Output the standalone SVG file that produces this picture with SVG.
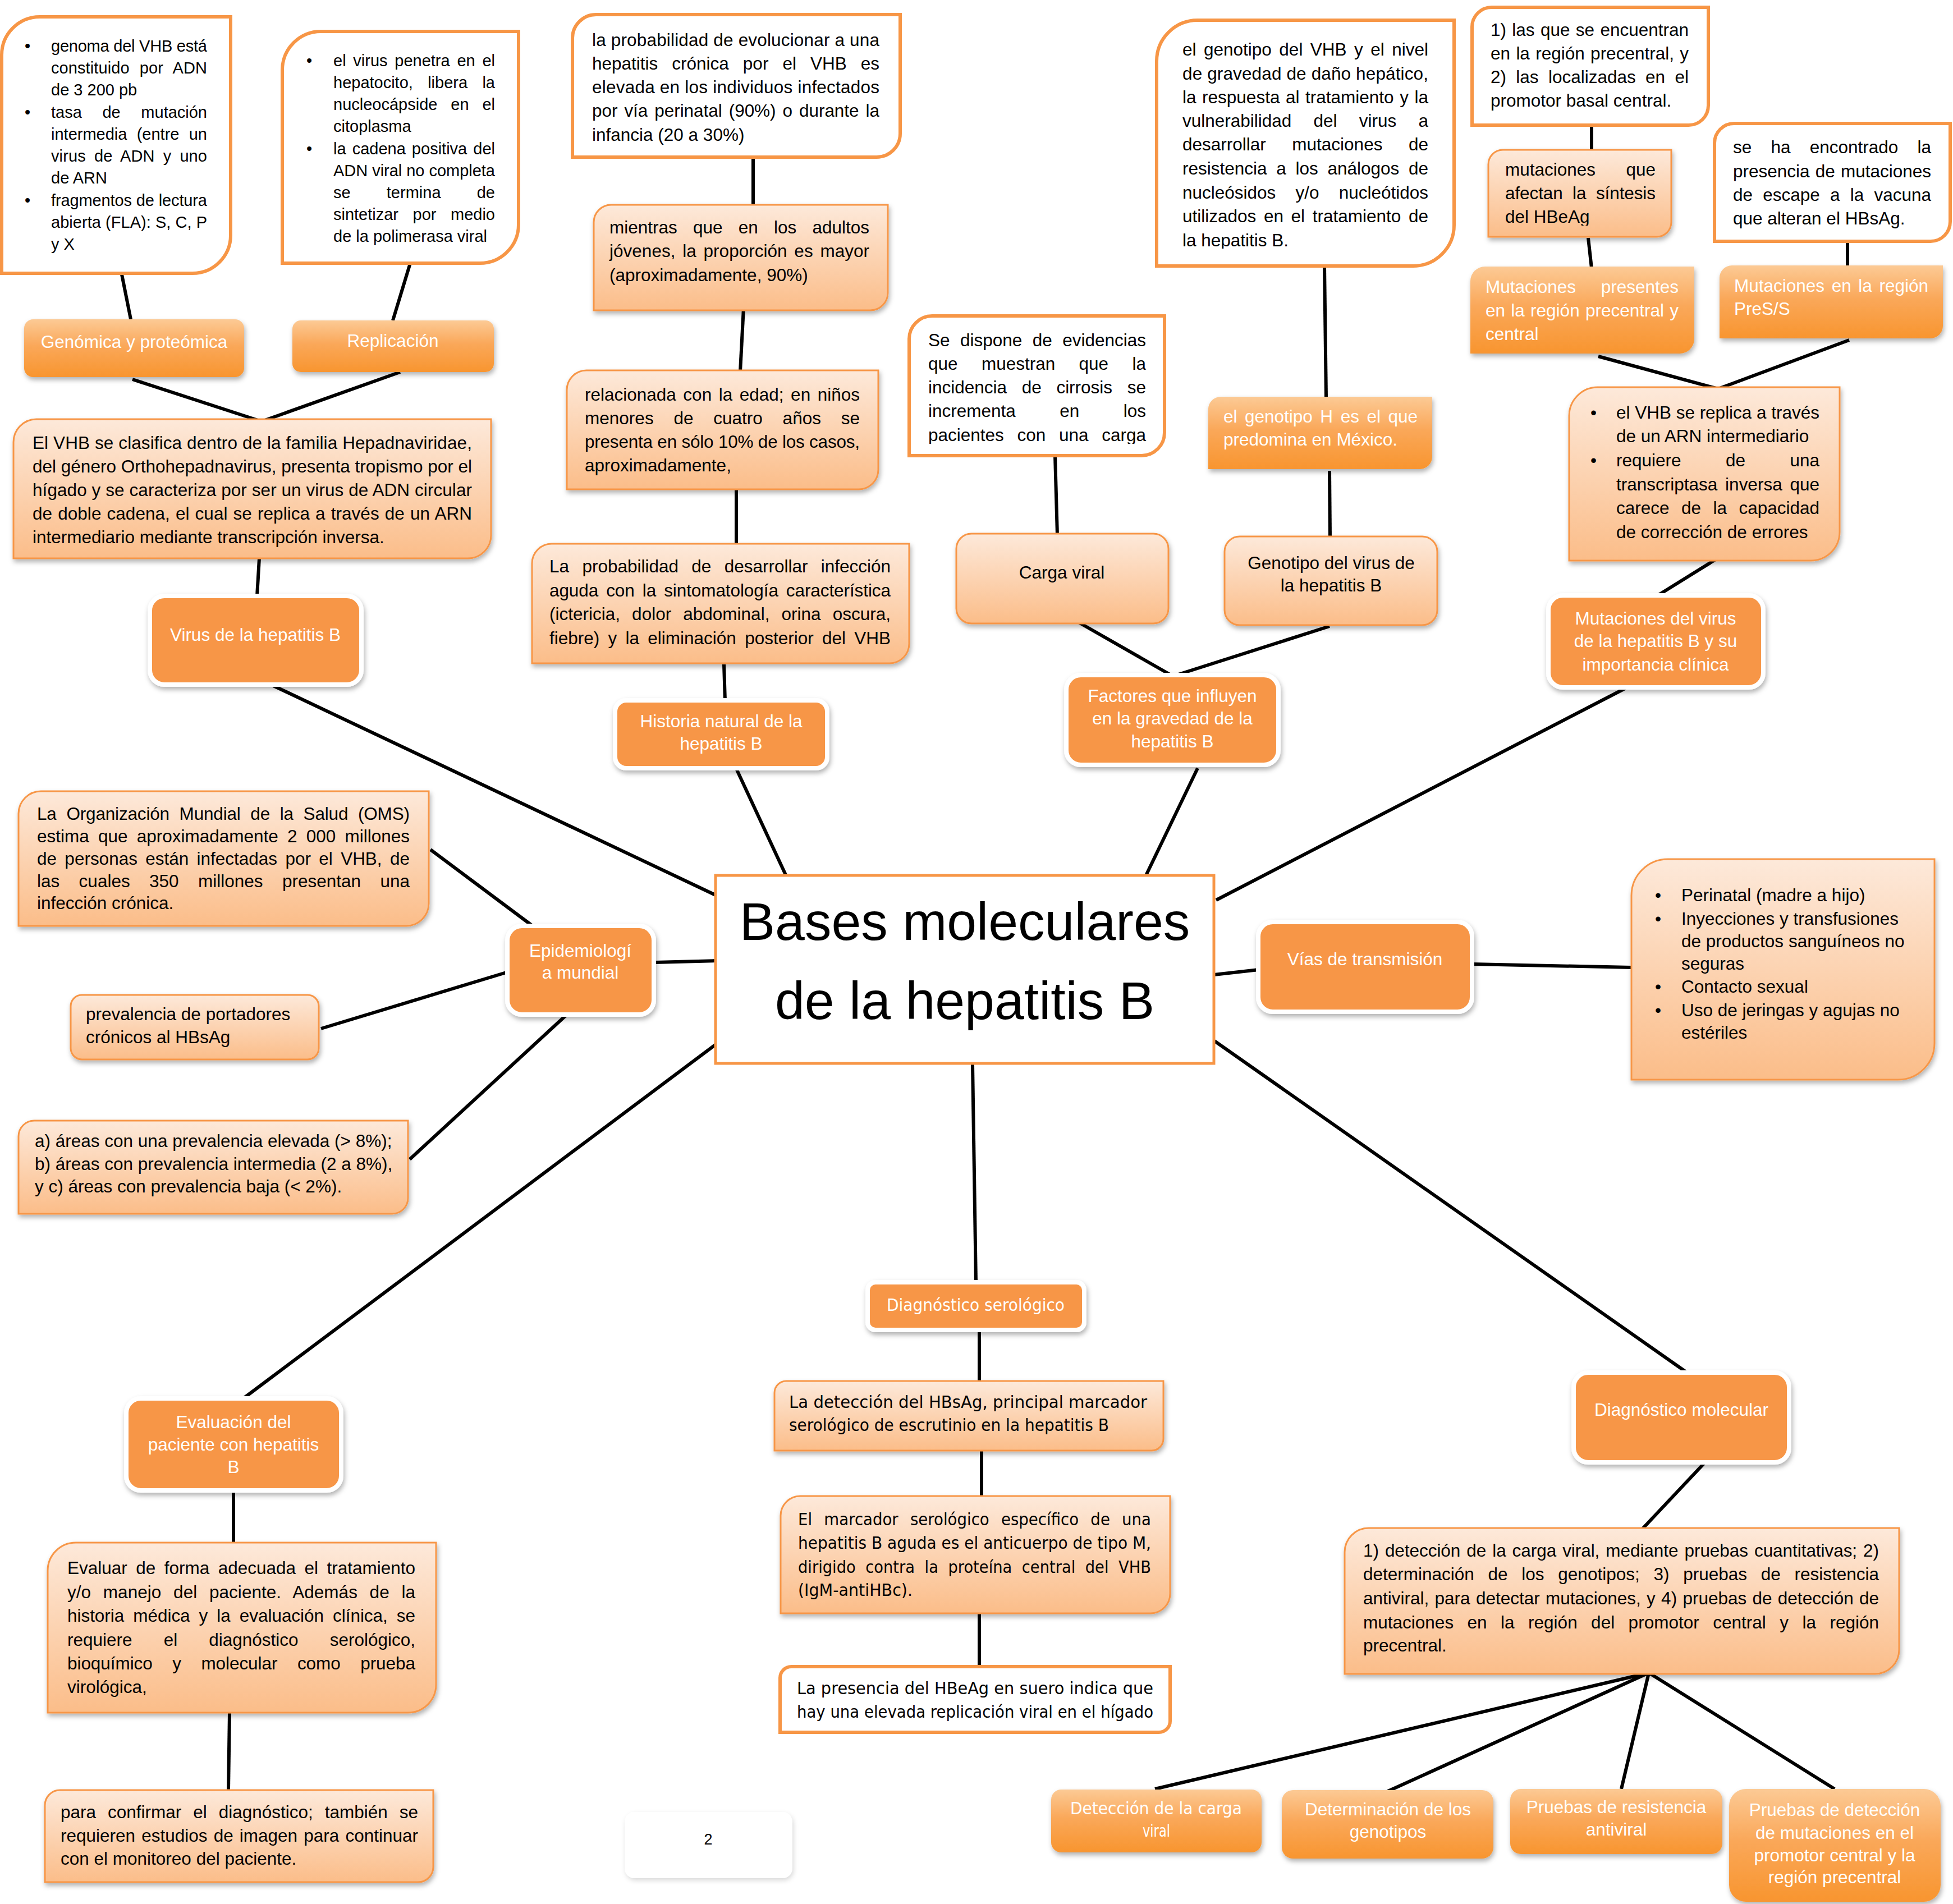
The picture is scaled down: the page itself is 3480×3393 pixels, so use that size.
<svg xmlns="http://www.w3.org/2000/svg" width="3480" height="3393" viewBox="0 0 3480 3393">
<defs>
<linearGradient id="peach" x1="0" y1="0" x2="0" y2="1"><stop offset="0" stop-color="#FDE9DA"/><stop offset="1" stop-color="#FBBD89"/></linearGradient>
<linearGradient id="orng" x1="0" y1="0" x2="0" y2="1"><stop offset="0" stop-color="#FCCA95"/><stop offset="0.45" stop-color="#FAA85A"/><stop offset="1" stop-color="#F8952F"/></linearGradient>
<filter id="sh" x="-10%" y="-10%" width="125%" height="135%"><feDropShadow dx="2" dy="5" stdDeviation="4" flood-color="#000" flood-opacity="0.3"/></filter>
<filter id="shl" x="-10%" y="-10%" width="125%" height="135%"><feDropShadow dx="2" dy="4" stdDeviation="4" flood-color="#000" flood-opacity="0.15"/></filter>
<clipPath id="clipM"><rect x="1620" y="563" width="455" height="228"/></clipPath>
<clipPath id="clipQ"><rect x="2061" y="36" width="530" height="407"/></clipPath>
<clipPath id="clipT"><rect x="2652" y="267" width="326" height="135"/></clipPath>
</defs>
<style>
.cw{fill:#fff;stroke:#F79646;stroke-width:6}
.pk{fill:url(#peach);stroke:#F79646;stroke-width:3;filter:url(#sh)}
.so{fill:#F79646;stroke:#fff;stroke-width:8;filter:url(#sh)}
.og{fill:url(#orng);filter:url(#sh)}
.ti{fill:#fff;stroke:#F79646;stroke-width:5}
.pg{fill:#fff;filter:url(#shl)}
.ln{stroke:#000;stroke-width:6;fill:none}
.t{font-family:"Liberation Sans",Arial,sans-serif;font-size:31.5px;fill:#000}
.s29{font-size:29px}
.wh{fill:#fff}
.m{text-anchor:middle}
.g{font-family:"DejaVu Sans",Verdana,sans-serif;font-size:31px}
</style>
<rect width="3480" height="3393" fill="#fff"/>
<g id="connectors">
<line class="ln" x1="217" y1="489" x2="233" y2="569"/>
<line class="ln" x1="731" y1="469" x2="700" y2="571"/>
<line class="ln" x1="236" y1="676" x2="466" y2="751"/>
<line class="ln" x1="713" y1="663" x2="466" y2="751"/>
<line class="ln" x1="462" y1="995" x2="458" y2="1062"/>
<line class="ln" x1="487" y1="1222" x2="1275" y2="1595"/>
<line class="ln" x1="1342" y1="280" x2="1342" y2="367"/>
<line class="ln" x1="1325" y1="548" x2="1319" y2="662"/>
<line class="ln" x1="1312" y1="872" x2="1312" y2="971"/>
<line class="ln" x1="1290" y1="1184" x2="1292" y2="1250"/>
<line class="ln" x1="1313" y1="1372" x2="1400" y2="1559"/>
<line class="ln" x1="1880" y1="812" x2="1884" y2="954"/>
<line class="ln" x1="2360" y1="474" x2="2363" y2="708"/>
<line class="ln" x1="2369" y1="839" x2="2370" y2="957"/>
<line class="ln" x1="1922" y1="1109" x2="2090" y2="1205"/>
<line class="ln" x1="2369" y1="1116" x2="2090" y2="1205"/>
<line class="ln" x1="2134" y1="1369" x2="2042" y2="1560"/>
<line class="ln" x1="2836" y1="226" x2="2836" y2="268"/>
<line class="ln" x1="2830" y1="424" x2="2836" y2="478"/>
<line class="ln" x1="3292" y1="430" x2="3292" y2="475"/>
<line class="ln" x1="2848" y1="635" x2="3058" y2="692"/>
<line class="ln" x1="3295" y1="606" x2="3064" y2="692"/>
<line class="ln" x1="3057" y1="997" x2="2954" y2="1061"/>
<line class="ln" x1="2903" y1="1223" x2="2167" y2="1604"/>
<line class="ln" x1="2163" y1="1737" x2="2243" y2="1728"/>
<line class="ln" x1="2623" y1="1718" x2="2907" y2="1724"/>
<line class="ln" x1="767" y1="1514" x2="949" y2="1650"/>
<line class="ln" x1="1167" y1="1715" x2="1277" y2="1712"/>
<line class="ln" x1="572" y1="1833" x2="902" y2="1733"/>
<line class="ln" x1="1010" y1="1808" x2="730" y2="2066"/>
<line class="ln" x1="1277" y1="1860" x2="431" y2="2494"/>
<line class="ln" x1="416" y1="2655" x2="416" y2="2752"/>
<line class="ln" x1="409" y1="3052" x2="407" y2="3190"/>
<line class="ln" x1="1733" y1="1897" x2="1739" y2="2286"/>
<line class="ln" x1="1745" y1="2370" x2="1745" y2="2461"/>
<line class="ln" x1="1749" y1="2585" x2="1749" y2="2667"/>
<line class="ln" x1="1745" y1="2875" x2="1745" y2="2972"/>
<line class="ln" x1="2164" y1="1855" x2="3006" y2="2446"/>
<line class="ln" x1="3040" y1="2604" x2="2927" y2="2724"/>
<line class="ln" x1="2938" y1="2981" x2="2058" y2="3188"/>
<line class="ln" x1="2938" y1="2981" x2="2473" y2="3192"/>
<line class="ln" x1="2938" y1="2981" x2="2889" y2="3188"/>
<line class="ln" x1="2938" y1="2981" x2="3269" y2="3188"/>
</g>

<g id="n-genoma">
<path class="cw" d="M3,98 A68,68 0 0 1 71,30 H411 V419 A68,68 0 0 1 343,487 H3 Z"/>
<g class="t s29">
<text x="44" y="92">•</text><text x="44" y="210">•</text><text x="44" y="367">•</text>
<text x="91" y="92" textLength="278" lengthAdjust="spacing">genoma del VHB está</text>
<text x="91" y="131" word-spacing="10" textLength="278" lengthAdjust="spacing">constituido por ADN</text>
<text x="91" y="170">de 3 200 pb</text>
<text x="91" y="210" word-spacing="28.6" textLength="278" lengthAdjust="spacing">tasa de mutación</text>
<text x="91" y="249" word-spacing="9.2" textLength="278" lengthAdjust="spacing">intermedia (entre un</text>
<text x="91" y="288" word-spacing="7" textLength="278" lengthAdjust="spacing">virus de ADN y uno</text>
<text x="91" y="327">de ARN</text>
<text x="91" y="367" textLength="278" lengthAdjust="spacing">fragmentos de lectura</text>
<text x="91" y="406" textLength="278" lengthAdjust="spacing">abierta (FLA): S, C, P</text>
<text x="91" y="445">y X</text>
</g>
</g>

<g id="n-replicacion-texto">
<path class="cw" d="M503,125 A69,69 0 0 1 572,56 H924 V400 A69,69 0 0 1 855,469 H503 Z"/>
<g class="t s29">
<text x="546" y="118">•</text><text x="546" y="275">•</text>
<text x="594" y="118" word-spacing="4.7" textLength="288" lengthAdjust="spacing">el virus penetra en el</text>
<text x="594" y="157" word-spacing="18.3" textLength="288" lengthAdjust="spacing">hepatocito, libera la</text>
<text x="594" y="196" word-spacing="15.8" textLength="288" lengthAdjust="spacing">nucleocápside en el</text>
<text x="594" y="235">citoplasma</text>
<text x="594" y="275" word-spacing="3" textLength="288" lengthAdjust="spacing">la cadena positiva del</text>
<text x="594" y="314" textLength="288" lengthAdjust="spacing">ADN viral no completa</text>
<text x="594" y="353" word-spacing="56" textLength="288" lengthAdjust="spacing">se termina de</text>
<text x="594" y="392" word-spacing="17.5" textLength="288" lengthAdjust="spacing">sintetizar por medio</text>
<text x="594" y="431">de la polimerasa viral</text>
</g>
</g>

<g id="n-genomica">
<rect class="og" x="43" y="569" width="392" height="103" rx="16"/>
<text class="t wh m" x="239" y="620">Genómica y proteómica</text>
</g>
<g id="n-replicacion">
<rect class="og" x="521" y="571" width="359" height="92" rx="15"/>
<text class="t wh m" x="700" y="618">Replicación</text>
</g>

<g id="n-vhb-clasifica">
<path class="pk" d="M24,788 A41,41 0 0 1 65,747 H875 V954 A41,41 0 0 1 834,995 H24 Z"/>
<g class="t">
<text x="58" y="800" textLength="783" lengthAdjust="spacing">El VHB se clasifica dentro de la familia Hepadnaviridae,</text>
<text x="58" y="842" textLength="783" lengthAdjust="spacing">del género Orthohepadnavirus, presenta tropismo por el</text>
<text x="58" y="884" textLength="783" lengthAdjust="spacing">hígado y se caracteriza por ser un virus de ADN circular</text>
<text x="58" y="926" word-spacing="1.3" textLength="783" lengthAdjust="spacing">de doble cadena, el cual se replica a través de un ARN</text>
<text x="58" y="968">intermediario mediante transcripción inversa.</text>
</g>
</g>

<g id="n-virus">
<rect class="so" x="267" y="1062" width="377" height="158" rx="26"/>
<text class="t wh m" x="455" y="1142">Virus de la hepatitis B</text>
</g>

<g id="n-prob-cronica">
<path class="cw" d="M1020,68 A42,42 0 0 1 1062,26 H1604 V238 A42,42 0 0 1 1562,280 H1020 Z"/>
<g class="t">
<text x="1055" y="82" textLength="512" lengthAdjust="spacing">la probabilidad de evolucionar a una</text>
<text x="1055" y="124" word-spacing="16.3" textLength="512" lengthAdjust="spacing">hepatitis crónica por el VHB es</text>
<text x="1055" y="166" textLength="512" lengthAdjust="spacing">elevada en los individuos infectados</text>
<text x="1055" y="208" word-spacing="3.3" textLength="512" lengthAdjust="spacing">por vía perinatal (90%) o durante la</text>
<text x="1055" y="251">infancia (20 a 30%)</text>
</g>
</g>

<g id="n-adultos">
<path class="pk" d="M1058,396 A31,31 0 0 1 1089,365 H1582 V522 A31,31 0 0 1 1551,553 H1058 Z"/>
<g class="t">
<text x="1086" y="416" word-spacing="19.5" textLength="463" lengthAdjust="spacing">mientras que en los adultos</text>
<text x="1086" y="458" word-spacing="4" textLength="463" lengthAdjust="spacing">jóvenes, la proporción es mayor</text>
<text x="1086" y="501">(aproximadamente, 90%)</text>
</g>
</g>

<g id="n-edad">
<path class="pk" d="M1010,695 A35,35 0 0 1 1045,660 H1565 V837 A35,35 0 0 1 1530,872 H1010 Z"/>
<g class="t">
<text x="1042" y="714" word-spacing="3.8" textLength="490" lengthAdjust="spacing">relacionada con la edad; en niños</text>
<text x="1042" y="756" word-spacing="27" textLength="490" lengthAdjust="spacing">menores de cuatro años se</text>
<text x="1042" y="798" textLength="490" lengthAdjust="spacing">presenta en sólo 10% de los casos,</text>
<text x="1042" y="840">aproximadamente,</text>
</g>
</g>

<g id="n-aguda">
<path class="pk" d="M948,1004 A35,35 0 0 1 983,969 H1620 V1147 A35,35 0 0 1 1585,1182 H948 Z"/>
<g class="t">
<text x="979" y="1020" word-spacing="14.6" textLength="608" lengthAdjust="spacing">La probabilidad de desarrollar infección</text>
<text x="979" y="1063" word-spacing="5.4" textLength="608" lengthAdjust="spacing">aguda con la sintomatología característica</text>
<text x="979" y="1105" word-spacing="12.4" textLength="608" lengthAdjust="spacing">(ictericia, dolor abdominal, orina oscura,</text>
<text x="979" y="1148" word-spacing="6.5" textLength="608" lengthAdjust="spacing">fiebre) y la eliminación posterior del VHB</text>
</g>
</g>

<g id="n-historia">
<rect class="so" x="1096" y="1248" width="378" height="121" rx="20"/>
<text class="t wh m" x="1285" y="1296">Historia natural de la</text>
<text class="t wh m" x="1285" y="1336">hepatitis B</text>
</g>

<g id="n-cirrosis">
<path class="cw" d="M1620,604 A41,41 0 0 1 1661,563 H2075 V771 A41,41 0 0 1 2034,812 H1620 Z"/>
<g class="t" clip-path="url(#clipM)">
<text x="1654" y="617" word-spacing="9.7" textLength="388" lengthAdjust="spacing">Se dispone de evidencias</text>
<text x="1654" y="659" word-spacing="33.6" textLength="388" lengthAdjust="spacing">que muestran que la</text>
<text x="1654" y="701" word-spacing="18" textLength="388" lengthAdjust="spacing">incidencia de cirrosis se</text>
<text x="1654" y="743" word-spacing="69.7" textLength="388" lengthAdjust="spacing">incrementa en los</text>
<text x="1654" y="786" word-spacing="15" textLength="388" lengthAdjust="spacing">pacientes con una carga</text>
</g>
</g>

<g id="n-carga">
<rect class="pk" x="1704" y="951" width="378" height="160" rx="27"/>
<text class="t m" x="1892" y="1031">Carga viral</text>
</g>

<g id="n-genotipo-texto">
<path class="cw" d="M2061,109 A73,73 0 0 1 2134,36 H2591 V401 A73,73 0 0 1 2518,474 H2061 Z"/>
<g class="t" clip-path="url(#clipQ)">
<text x="2107" y="99" word-spacing="4.7" textLength="438" lengthAdjust="spacing">el genotipo del VHB y el nivel</text>
<text x="2107" y="142" textLength="438" lengthAdjust="spacing">de gravedad de daño hepático,</text>
<text x="2107" y="184" word-spacing="1.8" textLength="438" lengthAdjust="spacing">la respuesta al tratamiento y la</text>
<text x="2107" y="226" word-spacing="30.5" textLength="438" lengthAdjust="spacing">vulnerabilidad del virus a</text>
<text x="2107" y="268" word-spacing="37.8" textLength="438" lengthAdjust="spacing">desarrollar mutaciones de</text>
<text x="2107" y="311" word-spacing="8" textLength="438" lengthAdjust="spacing">resistencia a los análogos de</text>
<text x="2107" y="354" word-spacing="26.4" textLength="438" lengthAdjust="spacing">nucleósidos y/o nucleótidos</text>
<text x="2107" y="396" word-spacing="4.9" textLength="438" lengthAdjust="spacing">utilizados en el tratamiento de</text>
<text x="2107" y="439">la hepatitis B.</text>
</g>
</g>

<g id="n-genotipo-h">
<path class="og" d="M2153,729 A22,22 0 0 1 2175,707 H2552 V814 A22,22 0 0 1 2530,836 H2153 Z"/>
<text class="t wh" x="2180" y="753" word-spacing="4.8" textLength="346" lengthAdjust="spacing">el genotipo H es el que</text>
<text class="t wh" x="2180" y="794">predomina en México.</text>
</g>

<g id="n-genotipo">
<rect class="pk" x="2182" y="956" width="379" height="158" rx="27"/>
<text class="t m" x="2372" y="1014">Genotipo del virus de</text>
<text class="t m" x="2372" y="1054">la hepatitis B</text>
</g>

<g id="n-factores">
<rect class="so" x="1900" y="1203" width="378" height="160" rx="26"/>
<text class="t wh m" x="2089" y="1251">Factores que influyen</text>
<text class="t wh m" x="2089" y="1291">en la gravedad de la</text>
<text class="t wh m" x="2089" y="1332">hepatitis B</text>
</g>

<g id="n-precentral-texto">
<path class="cw" d="M2623,48 A35,35 0 0 1 2658,13 H3044 V188 A35,35 0 0 1 3009,223 H2623 Z"/>
<g class="t">
<text x="2656" y="64" word-spacing="1.6" textLength="353" lengthAdjust="spacing">1) las que se encuentran</text>
<text x="2656" y="106" word-spacing="1.6" textLength="353" lengthAdjust="spacing">en la región precentral, y</text>
<text x="2656" y="148" word-spacing="8.6" textLength="353" lengthAdjust="spacing">2) las localizadas en el</text>
<text x="2656" y="190">promotor basal central.</text>
</g>
</g>

<g id="n-hbeag">
<path class="pk" d="M2652,293 A26,26 0 0 1 2678,267 H2978 V396 A26,26 0 0 1 2952,422 H2652 Z"/>
<g class="t" clip-path="url(#clipT)">
<text x="2682" y="313" word-spacing="45.6" textLength="268" lengthAdjust="spacing">mutaciones que</text>
<text x="2682" y="355" word-spacing="8.8" textLength="268" lengthAdjust="spacing">afectan la síntesis</text>
<text x="2682" y="397">del HBeAg</text>
</g>
</g>

<g id="n-mut-precentral">
<path class="og" d="M2620,501 A26,26 0 0 1 2646,475 H3019 V604 A26,26 0 0 1 2993,630 H2620 Z"/>
<g class="t wh">
<text x="2647" y="522" word-spacing="36" textLength="344" lengthAdjust="spacing">Mutaciones presentes</text>
<text x="2647" y="564" word-spacing="1.5" textLength="344" lengthAdjust="spacing">en la región precentral y</text>
<text x="2647" y="606">central</text>
</g>
</g>

<g id="n-escape">
<path class="cw" d="M3055,255 A35,35 0 0 1 3090,220 H3475 V395 A35,35 0 0 1 3440,430 H3055 Z"/>
<g class="t">
<text x="3088" y="273" word-spacing="25.4" textLength="353" lengthAdjust="spacing">se ha encontrado la</text>
<text x="3088" y="316" word-spacing="1.5" textLength="353" lengthAdjust="spacing">presencia de mutaciones</text>
<text x="3088" y="358" word-spacing="9.5" textLength="353" lengthAdjust="spacing">de escape a la vacuna</text>
<text x="3088" y="400">que alteran el HBsAg.</text>
</g>
</g>

<g id="n-pres">
<path class="og" d="M3064,495 A22,22 0 0 1 3086,473 H3462 V581 A22,22 0 0 1 3440,603 H3064 Z"/>
<text class="t wh" x="3090" y="520" word-spacing="3.9" textLength="346" lengthAdjust="spacing">Mutaciones en la región</text>
<text class="t wh" x="3090" y="561">PreS/S</text>
</g>

<g id="n-arn">
<path class="pk" d="M2796,741 A51,51 0 0 1 2847,690 H3278 V948 A51,51 0 0 1 3227,999 H2796 Z"/>
<g class="t">
<text x="2834" y="746">•</text><text x="2834" y="831">•</text>
<text x="2880" y="746" textLength="362" lengthAdjust="spacing">el VHB se replica a través</text>
<text x="2880" y="788">de un ARN intermediario</text>
<text x="2880" y="831" word-spacing="70.7" textLength="362" lengthAdjust="spacing">requiere de una</text>
<text x="2880" y="874" word-spacing="5" textLength="362" lengthAdjust="spacing">transcriptasa inversa que</text>
<text x="2880" y="916" word-spacing="12.7" textLength="362" lengthAdjust="spacing">carece de la capacidad</text>
<text x="2880" y="959">de corrección de errores</text>
</g>
</g>

<g id="n-mutaciones">
<rect class="so" x="2759" y="1061" width="383" height="164" rx="26"/>
<text class="t wh m" x="2950" y="1113">Mutaciones del virus</text>
<text class="t wh m" x="2950" y="1153">de la hepatitis B y su</text>
<text class="t wh m" x="2950" y="1195">importancia clínica</text>
</g>

<g id="n-titulo">
<rect class="ti" x="1275" y="1560" width="888" height="335"/>
<text class="t m" style="font-size:95px" x="1719" y="1675">Bases moleculares</text>
<text class="t m" style="font-size:95px" x="1719" y="1816">de la hepatitis B</text>
</g>

<g id="n-vias">
<rect class="so" x="2242" y="1643" width="381" height="160" rx="26"/>
<text class="t wh m" x="2432" y="1720">Vías de transmisión</text>
</g>

<g id="n-vias-lista">
<path class="pk" d="M2907,1596 A65,65 0 0 1 2972,1531 H3447 V1859 A65,65 0 0 1 3382,1924 H2907 Z"/>
<g class="t">
<text x="2949" y="1606">•</text><text x="2949" y="1648">•</text><text x="2949" y="1769">•</text><text x="2949" y="1811">•</text>
<text x="2996" y="1606">Perinatal (madre a hijo)</text>
<text x="2996" y="1648">Inyecciones y transfusiones</text>
<text x="2996" y="1688">de productos sanguíneos no</text>
<text x="2996" y="1728">seguras</text>
<text x="2996" y="1769">Contacto sexual</text>
<text x="2996" y="1811">Uso de jeringas y agujas no</text>
<text x="2996" y="1851">estériles</text>
</g>
</g>

<g id="n-oms">
<path class="pk" d="M33,1450 A40,40 0 0 1 73,1410 H764 V1610 A40,40 0 0 1 724,1650 H33 Z"/>
<g class="t">
<text x="66" y="1461" word-spacing="9.1" textLength="664" lengthAdjust="spacing">La Organización Mundial de la Salud (OMS)</text>
<text x="66" y="1501" word-spacing="7.4" textLength="664" lengthAdjust="spacing">estima que aproximadamente 2 000 millones</text>
<text x="66" y="1541" word-spacing="5.6" textLength="664" lengthAdjust="spacing">de personas están infectadas por el VHB, de</text>
<text x="66" y="1581" word-spacing="25.6" textLength="664" lengthAdjust="spacing">las cuales 350 millones presentan una</text>
<text x="66" y="1620">infección crónica.</text>
</g>
</g>

<g id="n-epidemiologia">
<rect class="so" x="904" y="1650" width="261" height="158" rx="26"/>
<text class="t wh m" x="1034" y="1705">Epidemiologí</text>
<text class="t wh m" x="1034" y="1744">a mundial</text>
</g>

<g id="n-portadores">
<rect class="pk" x="126" y="1773" width="442" height="115" rx="20"/>
<text class="t" x="153" y="1818">prevalencia de portadores</text>
<text class="t" x="153" y="1859">crónicos al HBsAg</text>
</g>

<g id="n-areas">
<path class="pk" d="M33,2025 A28,28 0 0 1 61,1997 H727 V2135 A28,28 0 0 1 699,2163 H33 Z"/>
<g class="t">
<text x="62" y="2044">a) áreas con una prevalencia elevada (&gt; 8%);</text>
<text x="62" y="2085">b) áreas con prevalencia intermedia (2 a 8%),</text>
<text x="62" y="2125">y c) áreas con prevalencia baja (&lt; 2%).</text>
</g>
</g>

<g id="n-evaluacion">
<rect class="so" x="225" y="2492" width="383" height="164" rx="26"/>
<text class="t wh m" x="416" y="2545">Evaluación del</text>
<text class="t wh m" x="416" y="2585">paciente con hepatitis</text>
<text class="t wh m" x="416" y="2625">B</text>
</g>

<g id="n-evaluar">
<path class="pk" d="M85,2799 A50,50 0 0 1 135,2749 H777 V3002 A50,50 0 0 1 727,3052 H85 Z"/>
<g class="t">
<text x="120" y="2805" word-spacing="6.7" textLength="620" lengthAdjust="spacing">Evaluar de forma adecuada el tratamiento</text>
<text x="120" y="2848" word-spacing="12.9" textLength="620" lengthAdjust="spacing">y/o manejo del paciente. Además de la</text>
<text x="120" y="2890" word-spacing="7.3" textLength="620" lengthAdjust="spacing">historia médica y la evaluación clínica, se</text>
<text x="120" y="2933" word-spacing="47.3" textLength="620" lengthAdjust="spacing">requiere el diagnóstico serológico,</text>
<text x="120" y="2975" word-spacing="26.8" textLength="620" lengthAdjust="spacing">bioquímico y molecular como prueba</text>
<text x="120" y="3017">virológica,</text>
</g>
</g>

<g id="n-confirmar">
<path class="pk" d="M80,3217 A27,27 0 0 1 107,3190 H772 V3327 A27,27 0 0 1 745,3354 H80 Z"/>
<g class="t">
<text x="108" y="3240" word-spacing="12.2" textLength="637" lengthAdjust="spacing">para confirmar el diagnóstico; también se</text>
<text x="108" y="3282" word-spacing="2.4" textLength="637" lengthAdjust="spacing">requieren estudios de imagen para continuar</text>
<text x="108" y="3323">con el monitoreo del paciente.</text>
</g>
</g>

<g id="n-pagina">
<rect class="pg" x="1113" y="3229" width="299" height="118" rx="18"/>
<text class="t m" style="font-size:27px" x="1262" y="3287">2</text>
</g>

<g id="n-serologico">
<rect class="so" x="1546" y="2285" width="386" height="85" rx="14"/>
<text class="g wh" x="1580" y="2336" textLength="317" lengthAdjust="spacingAndGlyphs">Diagnóstico serológico</text>
</g>

<g id="n-hbsag">
<path class="pk" d="M1380,2482 A21,21 0 0 1 1401,2461 H2073 V2564 A21,21 0 0 1 2052,2585 H1380 Z"/>
<text class="g" x="1406" y="2509" textLength="638" lengthAdjust="spacingAndGlyphs">La detección del HBsAg, principal marcador</text>
<text class="g" x="1406" y="2550" textLength="570" lengthAdjust="spacingAndGlyphs">serológico de escrutinio en la hepatitis B</text>
</g>

<g id="n-igm">
<path class="pk" d="M1391,2701 A35,35 0 0 1 1426,2666 H2085 V2840 A35,35 0 0 1 2050,2875 H1391 Z"/>
<text class="g" x="1422" y="2718" word-spacing="14" textLength="629" lengthAdjust="spacingAndGlyphs">El marcador serológico específico de una</text>
<text class="g" x="1422" y="2760" textLength="629" lengthAdjust="spacingAndGlyphs">hepatitis B aguda es el anticuerpo de tipo M,</text>
<text class="g" x="1422" y="2803" word-spacing="10" textLength="629" lengthAdjust="spacingAndGlyphs">dirigido contra la proteína central del VHB</text>
<text class="g" x="1422" y="2844" textLength="204" lengthAdjust="spacingAndGlyphs">(IgM-antiHBc).</text>
</g>

<g id="n-hbeag-suero">
<path class="cw" d="M1390,2990 A20,20 0 0 1 1410,2970 H2085 V3067 A20,20 0 0 1 2065,3087 H1390 Z"/>
<text class="g" x="1420" y="3019" textLength="635" lengthAdjust="spacingAndGlyphs">La presencia del HBeAg en suero indica que</text>
<text class="g" x="1420" y="3061" textLength="635" lengthAdjust="spacingAndGlyphs">hay una elevada replicación viral en el hígado</text>
</g>

<g id="n-molecular">
<rect class="so" x="2804" y="2446" width="384" height="160" rx="26"/>
<text class="t wh m" x="2996" y="2523">Diagnóstico molecular</text>
</g>

<g id="n-molecular-lista">
<path class="pk" d="M2396,2766 A43,43 0 0 1 2439,2723 H3384 V2940 A43,43 0 0 1 3341,2983 H2396 Z"/>
<g class="t">
<text x="2429" y="2774" word-spacing="2.3" textLength="919" lengthAdjust="spacing">1) detección de la carga viral, mediante pruebas cuantitativas; 2)</text>
<text x="2429" y="2816" word-spacing="16" textLength="919" lengthAdjust="spacing">determinación de los genotipos; 3) pruebas de resistencia</text>
<text x="2429" y="2859" word-spacing="1.5" textLength="919" lengthAdjust="spacing">antiviral, para detectar mutaciones, y 4) pruebas de detección de</text>
<text x="2429" y="2902" word-spacing="15.7" textLength="919" lengthAdjust="spacing">mutaciones en la región del promotor central y la región</text>
<text x="2429" y="2943">precentral.</text>
</g>
</g>

<g id="n-deteccion-carga">
<rect class="og" x="1873" y="3189" width="375" height="112" rx="18"/>
<text class="g wh" x="1907" y="3233" textLength="306" lengthAdjust="spacingAndGlyphs">Detección de la carga</text>
<text class="g wh" x="2036" y="3273" textLength="49" lengthAdjust="spacingAndGlyphs">viral</text>
</g>

<g id="n-genotipos">
<rect class="og" x="2284" y="3190" width="377" height="122" rx="20"/>
<text class="t wh m" x="2473" y="3235">Determinación de los</text>
<text class="t wh m" x="2473" y="3275">genotipos</text>
</g>

<g id="n-resistencia">
<rect class="og" x="2691" y="3188" width="378" height="116" rx="19"/>
<text class="t wh m" x="2880" y="3231">Pruebas de resistencia</text>
<text class="t wh m" x="2880" y="3271">antiviral</text>
</g>

<g id="n-promotor">
<rect class="og" x="3081" y="3188" width="377" height="201" rx="30"/>
<text class="t wh m" x="3269" y="3236">Pruebas de detección</text>
<text class="t wh m" x="3269" y="3277">de mutaciones en el</text>
<text class="t wh m" x="3269" y="3317">promotor central y la</text>
<text class="t wh m" x="3269" y="3356">región precentral</text>
</g>
</svg>
